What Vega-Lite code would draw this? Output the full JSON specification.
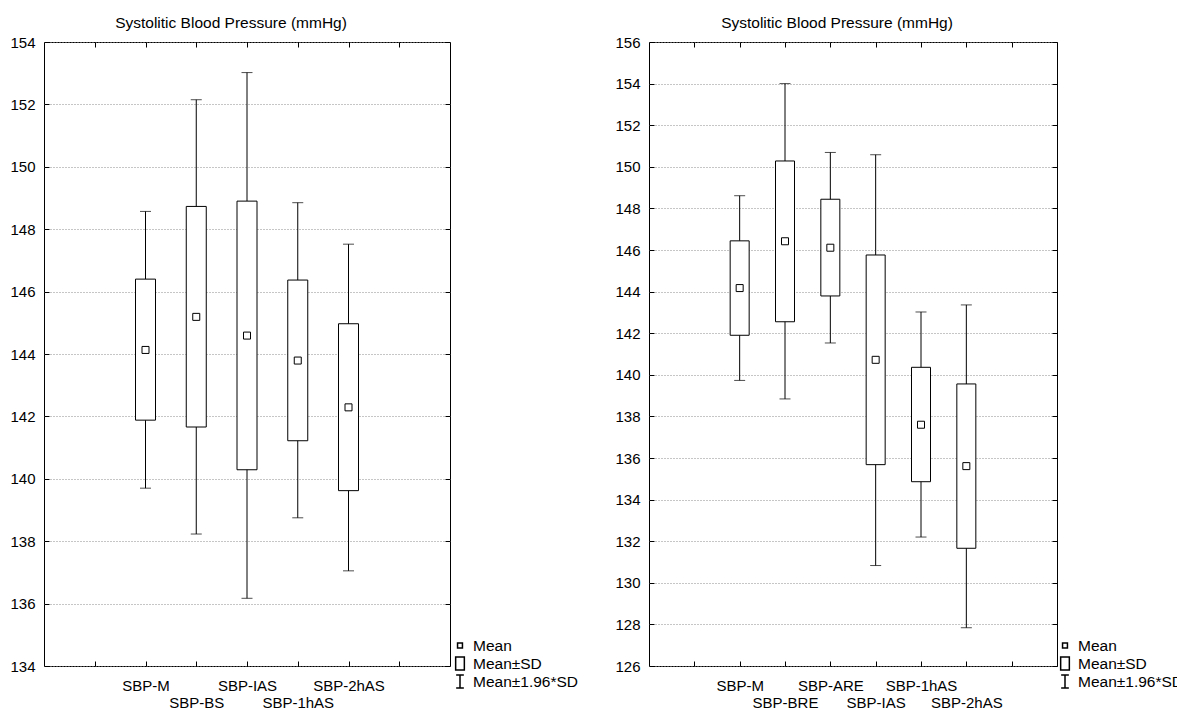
{
  "$schema": "https://vega.github.io/schema/vega-lite/v6.json",
  "padding": {"left": 9, "top": 15, "right": 0, "bottom": 0},
  "bounds": "flush",
  "spacing": 199,
  "config": {
    "font": "Liberation Sans",
    "view": {"stroke": "black", "strokeWidth": 1},
    "axis": {"labelFontSize": 15, "labelColor": "black", "labelFont": "Liberation Sans", "tickColor": "black", "domain": false, "grid": false, "title": null},
    "title": {"fontSize": 15.5, "fontWeight": "normal", "font": "Liberation Sans", "color": "black", "anchor": "middle", "frame": "group", "dx": -16, "offset": 4},
    "legend": {"orient": "none", "legendX": 408, "legendY": 595, "padding": 0, "labelFontSize": 15.5, "labelFont": "Liberation Sans", "labelColor": "black", "symbolSize": 196, "rowPadding": 1, "clipHeight": 17, "labelOffset": 5}
  },
  "hconcat": [
    {
      "width": 406,
      "height": 624,
      "title": "Systolitic Blood Pressure (mmHg)",
      "data": {"values": [
        {"var": "SBP-M", "mean": 144.13, "lo_sd": 141.88, "hi_sd": 146.40, "lo_w": 139.70, "hi_w": 148.57},
        {"var": "SBP-BS", "mean": 145.19, "lo_sd": 141.66, "hi_sd": 148.73, "lo_w": 138.23, "hi_w": 152.15},
        {"var": "SBP-IAS", "mean": 144.59, "lo_sd": 140.29, "hi_sd": 148.90, "lo_w": 136.17, "hi_w": 153.02},
        {"var": "SBP-1hAS", "mean": 143.79, "lo_sd": 141.22, "hi_sd": 146.37, "lo_w": 138.75, "hi_w": 148.85},
        {"var": "SBP-2hAS", "mean": 142.29, "lo_sd": 139.62, "hi_sd": 144.97, "lo_w": 137.05, "hi_w": 147.52}
      ]},
      "resolve": {"axis": {"x": "independent", "y": "independent"}},
      "layer": [
        {
          "mark": {"type": "rule", "color": "black", "strokeWidth": 1},
          "encoding": {
            "x": {"field": "var", "type": "nominal", "scale": {"type": "point", "padding": 1, "domain": ["_L", "SBP-M", "SBP-BS", "SBP-IAS", "SBP-1hAS", "SBP-2hAS", "_R"]},
              "axis": {"orient": "bottom", "tickSize": -5, "labelPadding": 17, "labelAngle": 0, "labelOverlap": false, "labelLineHeight": 17, "labelBaseline": "top",
                "labelExpr": "datum.value == '_L' || datum.value == '_R' ? '' : (indexof(['SBP-BS','SBP-1hAS'], datum.value) >= 0 ? ['', datum.value] : datum.value)"}},
            "y": {"field": "lo_w", "type": "quantitative", "scale": {"domain": [134, 154], "nice": false, "zero": false},
              "axis": {"orient": "left", "values": [134, 136, 138, 140, 142, 144, 146, 148, 150, 152, 154], "grid": true, "gridColor": "#8c8c8c", "gridDash": [1, 2], "gridWidth": 1, "tickSize": -5, "labelPadding": 14}},
            "y2": {"field": "hi_w"}
          }
        },
        {
          "mark": {"type": "tick", "color": "black", "size": 11, "thickness": 1},
          "encoding": {
            "x": {"field": "var", "type": "nominal", "axis": null},
            "y": {"field": "lo_w", "type": "quantitative", "axis": null}
          }
        },
        {
          "mark": {"type": "tick", "color": "black", "size": 11, "thickness": 1},
          "encoding": {
            "x": {"field": "var", "type": "nominal", "axis": null},
            "y": {"field": "hi_w", "type": "quantitative", "axis": null}
          }
        },
        {
          "mark": {"type": "bar", "width": 20, "fill": "white", "stroke": "black", "strokeWidth": 1},
          "encoding": {
            "x": {"field": "var", "type": "nominal", "axis": null},
            "y": {"field": "lo_sd", "type": "quantitative", "axis": null},
            "y2": {"field": "hi_sd"}
          }
        },
        {
          "mark": {"type": "point", "filled": false, "fill": "white", "stroke": "black", "strokeWidth": 1, "opacity": 1, "size": 400},
          "encoding": {
            "x": {"field": "var", "type": "nominal", "axis": null},
            "y": {"field": "mean", "type": "quantitative", "axis": null},
            "shape": {"datum": "Mean", "type": "nominal",
              "scale": {"domain": ["Mean", "Mean±SD", "Mean±1.96*SD"], "range": ["M-0.35,-0.35H0.35V0.35H-0.35Z", "M-0.62,-0.92H0.62V0.92H-0.62Z", "M-0.55,-0.92H0.55M0,-0.92V0.92M-0.55,0.92H0.55"]},
              "legend": {"title": null}}
          }
        },
        {
          "mark": {"type": "point", "opacity": 0},
          "encoding": {
            "x": {"field": "var", "type": "nominal", "axis": {"orient": "top", "labels": false, "tickSize": -5}},
            "y": {"field": "mean", "type": "quantitative", "axis": {"orient": "right", "labels": false, "tickSize": -5, "values": [134, 136, 138, 140, 142, 144, 146, 148, 150, 152, 154]}}
          }
        }
      ]
    },
    {
      "width": 408,
      "height": 624,
      "title": "Systolitic Blood Pressure (mmHg)",
      "data": {"values": [
        {"var": "SBP-M", "mean": 144.17, "lo_sd": 141.90, "hi_sd": 146.44, "lo_w": 139.73, "hi_w": 148.61},
        {"var": "SBP-BRE", "mean": 146.42, "lo_sd": 142.55, "hi_sd": 150.28, "lo_w": 138.84, "hi_w": 154.00},
        {"var": "SBP-ARE", "mean": 146.11, "lo_sd": 143.79, "hi_sd": 148.44, "lo_w": 141.53, "hi_w": 150.69},
        {"var": "SBP-IAS", "mean": 140.72, "lo_sd": 135.68, "hi_sd": 145.76, "lo_w": 130.83, "hi_w": 150.58},
        {"var": "SBP-1hAS", "mean": 137.60, "lo_sd": 134.86, "hi_sd": 140.36, "lo_w": 132.20, "hi_w": 143.02},
        {"var": "SBP-2hAS", "mean": 135.61, "lo_sd": 131.66, "hi_sd": 139.56, "lo_w": 127.84, "hi_w": 143.36}
      ]},
      "resolve": {"axis": {"x": "independent", "y": "independent"}},
      "layer": [
        {
          "mark": {"type": "rule", "color": "black", "strokeWidth": 1},
          "encoding": {
            "x": {"field": "var", "type": "nominal", "scale": {"type": "point", "padding": 1, "domain": ["_L", "SBP-M", "SBP-BRE", "SBP-ARE", "SBP-IAS", "SBP-1hAS", "SBP-2hAS", "_R"]},
              "axis": {"orient": "bottom", "tickSize": -5, "labelPadding": 17, "labelAngle": 0, "labelOverlap": false, "labelLineHeight": 17, "labelBaseline": "top",
                "labelExpr": "datum.value == '_L' || datum.value == '_R' ? '' : (indexof(['SBP-BRE','SBP-IAS','SBP-2hAS'], datum.value) >= 0 ? ['', datum.value] : datum.value)"}},
            "y": {"field": "lo_w", "type": "quantitative", "scale": {"domain": [126, 156], "nice": false, "zero": false},
              "axis": {"orient": "left", "values": [126, 128, 130, 132, 134, 136, 138, 140, 142, 144, 146, 148, 150, 152, 154, 156], "grid": true, "gridColor": "#8c8c8c", "gridDash": [1, 2], "gridWidth": 1, "tickSize": -5, "labelPadding": 14}},
            "y2": {"field": "hi_w"}
          }
        },
        {
          "mark": {"type": "tick", "color": "black", "size": 11, "thickness": 1},
          "encoding": {
            "x": {"field": "var", "type": "nominal", "axis": null},
            "y": {"field": "lo_w", "type": "quantitative", "axis": null}
          }
        },
        {
          "mark": {"type": "tick", "color": "black", "size": 11, "thickness": 1},
          "encoding": {
            "x": {"field": "var", "type": "nominal", "axis": null},
            "y": {"field": "hi_w", "type": "quantitative", "axis": null}
          }
        },
        {
          "mark": {"type": "bar", "width": 19, "fill": "white", "stroke": "black", "strokeWidth": 1},
          "encoding": {
            "x": {"field": "var", "type": "nominal", "axis": null},
            "y": {"field": "lo_sd", "type": "quantitative", "axis": null},
            "y2": {"field": "hi_sd"}
          }
        },
        {
          "mark": {"type": "point", "filled": false, "fill": "white", "stroke": "black", "strokeWidth": 1, "opacity": 1, "size": 400},
          "encoding": {
            "x": {"field": "var", "type": "nominal", "axis": null},
            "y": {"field": "mean", "type": "quantitative", "axis": null},
            "shape": {"datum": "Mean", "type": "nominal",
              "scale": {"domain": ["Mean", "Mean±SD", "Mean±1.96*SD"], "range": ["M-0.35,-0.35H0.35V0.35H-0.35Z", "M-0.62,-0.92H0.62V0.92H-0.62Z", "M-0.55,-0.92H0.55M0,-0.92V0.92M-0.55,0.92H0.55"]},
              "legend": {"title": null}}
          }
        },
        {
          "mark": {"type": "point", "opacity": 0},
          "encoding": {
            "x": {"field": "var", "type": "nominal", "axis": {"orient": "top", "labels": false, "tickSize": -5}},
            "y": {"field": "mean", "type": "quantitative", "axis": {"orient": "right", "labels": false, "tickSize": -5, "values": [126, 128, 130, 132, 134, 136, 138, 140, 142, 144, 146, 148, 150, 152, 154, 156]}}
          }
        }
      ]
    }
  ],
  "resolve": {"scale": {"shape": "independent"}, "legend": {"shape": "independent"}}
}
